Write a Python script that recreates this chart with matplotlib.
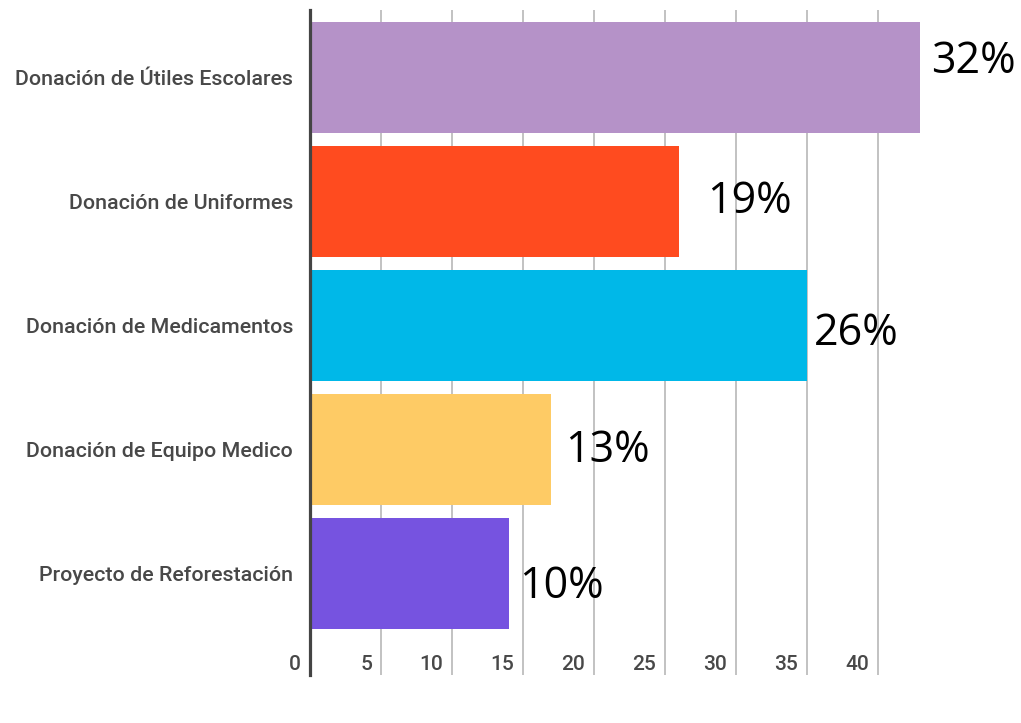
import matplotlib
matplotlib.use("Agg")
import matplotlib.pyplot as plt

# donaciones por proyecto
categorias = [
    "Donación de Útiles Escolares",
    "Donación de Uniformes",
    "Donación de Medicamentos",
    "Donación de Equipo Medico",
    "Proyecto de Reforestación",
]
valores = [43, 26, 35, 17, 14]
colores = ["#b592c8", "#ff4b1f", "#00b8e8", "#fecb65", "#7653e0"]
ticks_x = [0, 5, 10, 15, 20, 25, 30, 35, 40]

# desplazamiento (px) de cada porcentaje respecto al final de la barra
offs_pct = [(11, -5), (28, 11), (7, 19), (14, 12), (10, 24)]

total = sum(valores)
porcentajes = [round(v * 100 / total) for v in valores]

fig = plt.figure(figsize=(10.21, 7.23), dpi=100)
ax = fig.add_axes([310 / 1021, 48 / 723, 638.6 / 1021, 665 / 723])

y = list(range(len(categorias)))
ax.barh(y, valores, height=0.895, color=colores, zorder=2)

for t in ticks_x[1:]:
    ax.axvline(t, color="#bdbdbd", lw=1.3, zorder=1)
ax.axvline(0, color="#444444", lw=2.3, zorder=3, clip_on=False)

ax.set_xlim(0, 45)
ax.set_ylim(4.815, -0.548)
ax.axis("off")

# etiquetas de categorias a la izquierda del eje
for i, nom in enumerate(categorias):
    ax.annotate(nom, (0, i), xytext=(-17, -7), textcoords="offset pixels",
                ha="right", va="baseline", fontsize=15.4, family="Roboto",
                weight="medium", color="#484848", annotation_clip=False)

# numeros del eje x, pegados a la izquierda de cada linea
for t in ticks_x:
    ax.annotate(str(t), (t, 4.774), xytext=(-9, 0), textcoords="offset pixels",
                ha="right", va="baseline", fontsize=15, family="Roboto",
                weight="medium", color="#484848", annotation_clip=False)

# porcentajes
for i, (v, p) in enumerate(zip(valores, porcentajes)):
    dx, dy = offs_pct[i]
    ax.annotate(f"{p}%", (v, i), xytext=(dx, -dy), textcoords="offset pixels",
                ha="left", va="baseline", fontsize=31, family="Open Sans",
                color="black", annotation_clip=False, zorder=4)

plt.savefig("out.png", dpi=100)
